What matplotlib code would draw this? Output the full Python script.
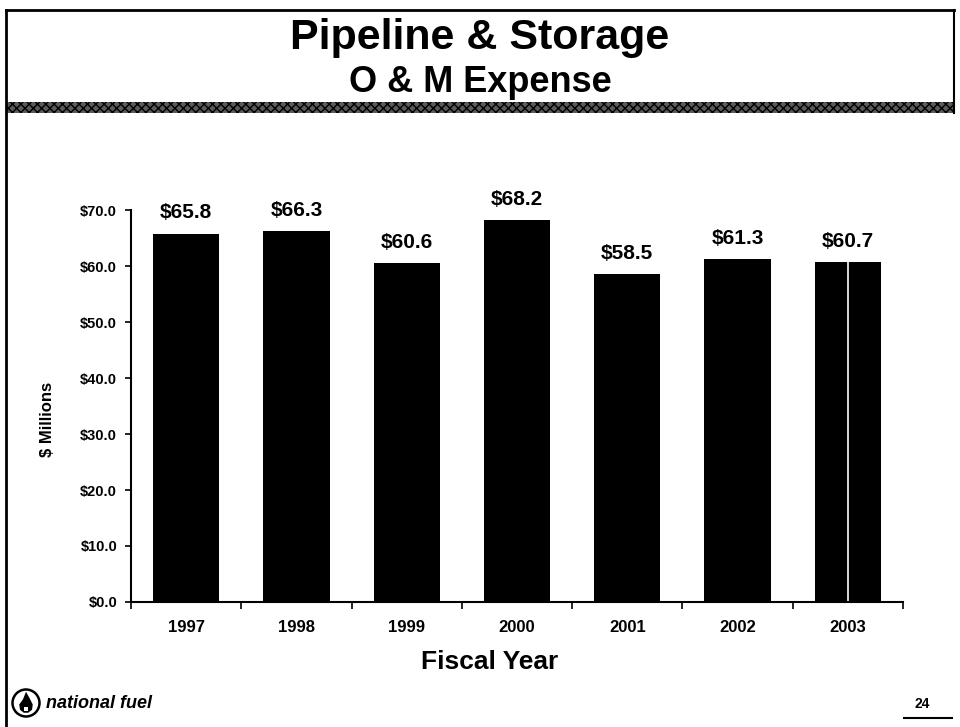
import matplotlib
matplotlib.use("Agg")
import matplotlib.pyplot as plt
from matplotlib.patches import Rectangle, Circle, Polygon

years = ["1997", "1998", "1999", "2000", "2001", "2002", "2003"]
expense = [65.8, 66.3, 60.6, 68.2, 58.5, 61.3, 60.7]
yticks = [0, 10, 20, 30, 40, 50, 60, 70]

FONT = "Liberation Sans"
W, H = 960, 727

fig = plt.figure(figsize=(W / 100, H / 100), dpi=100)
fig.patch.set_facecolor("white")

# slide frame + dithered title band
fig.add_artist(plt.Line2D([0.006, 0.994], [0.986, 0.986], color="black", lw=2))
fig.add_artist(plt.Line2D([0.006, 0.006], [0.0, 0.986], color="black", lw=2))
fig.add_artist(plt.Line2D([0.994, 0.994], [0.845, 0.986], color="black", lw=1.5))
fig.add_artist(Rectangle((0.006, 1 - 113 / H), 0.988, 11 / H, transform=fig.transFigure,
                         facecolor="#5a5a5a", edgecolor="black", hatch="xxxx", lw=0))

fig.text(0.5, 1 - 38 / H, "Pipeline & Storage", ha="center", va="center",
         fontsize=31, fontweight="bold", family=FONT)
fig.text(0.5, 1 - 83 / H, "O & M Expense", ha="center", va="center",
         fontsize=26, fontweight="bold", family=FONT)

ax = fig.add_axes([131 / W, 1 - 602 / H, 772 / W, 392 / H])
x = list(range(len(years)))
ax.bar(x, expense, width=0.6, color="black")
# scan artifact: light seam through the last bar
ax.vlines(x[-1], 0, expense[-1], color="white", lw=1.2)

for xi, v in zip(x, expense):
    ax.annotate(f"${v:.1f}", (xi, v), xytext=(0, 8), textcoords="offset points",
                ha="center", va="bottom", fontsize=15, fontweight="bold", family=FONT)

ax.set_xlim(-0.5, len(years) - 0.5)
ax.set_ylim(0, 70)
ax.set_yticks(yticks)
ax.set_yticklabels([f"${t}.0" for t in yticks], fontsize=10.5, fontweight="bold", family=FONT)
ax.set_xticks(x)
ax.set_xticklabels(years, fontsize=12, fontweight="bold", family=FONT)
ax.set_xticks([i + 0.5 for i in range(-1, len(years))], minor=True)
ax.tick_params(axis="x", which="major", length=0, pad=13)
ax.tick_params(axis="x", which="minor", length=5, width=1.2, direction="out")
ax.tick_params(axis="y", length=4, width=1.2, direction="out", pad=6)
for side in ("top", "right"):
    ax.spines[side].set_visible(False)
for side in ("left", "bottom"):
    ax.spines[side].set_linewidth(1.5)

ax.set_ylabel("$ Millions", fontsize=12, fontweight="bold", family=FONT)
ax.yaxis.set_label_coords(-(131 - 48) / 772, (602 - 419) / 392)
ax.yaxis.label.set_va("center")
ax.set_xlabel("Fiscal Year", fontsize=19, fontweight="bold", family=FONT)
ax.xaxis.set_label_coords((490 - 131) / 772, -(662 - 602) / 392)
ax.xaxis.label.set_va("center")

# footer: logo, company name, page number
lax = fig.add_axes([11 / W, 1 - 718 / H, 30 / W, 30 / H])
lax.set_xlim(-1, 1)
lax.set_ylim(-1, 1)
lax.set_aspect("equal")
lax.axis("off")
lax.add_patch(Circle((0, 0), 0.9, facecolor="white", edgecolor="black", lw=1.8))
lax.add_patch(Polygon([(0, 0.75), (0.25, 0.3), (0.45, -0.1), (0.4, -0.45), (0.15, -0.65),
                       (-0.15, -0.65), (-0.4, -0.45), (-0.45, -0.1), (-0.2, 0.25)],
                      closed=True, facecolor="black", edgecolor="none"))
lax.add_patch(Rectangle((-0.13, -0.55), 0.26, 0.3, facecolor="white", edgecolor="none"))

fig.text(46 / W, 1 - 703 / H, "national fuel", ha="left", va="center", fontsize=13,
         fontweight="bold", style="italic", family=FONT)
fig.text(922 / W, 1 - 704 / H, "24", ha="center", va="center", fontsize=10,
         fontweight="bold", family=FONT)
fig.add_artist(plt.Line2D([904 / W, 952 / W], [1 - 718 / H, 1 - 718 / H], color="black", lw=1.5))

fig.savefig("out.png", dpi=100)
